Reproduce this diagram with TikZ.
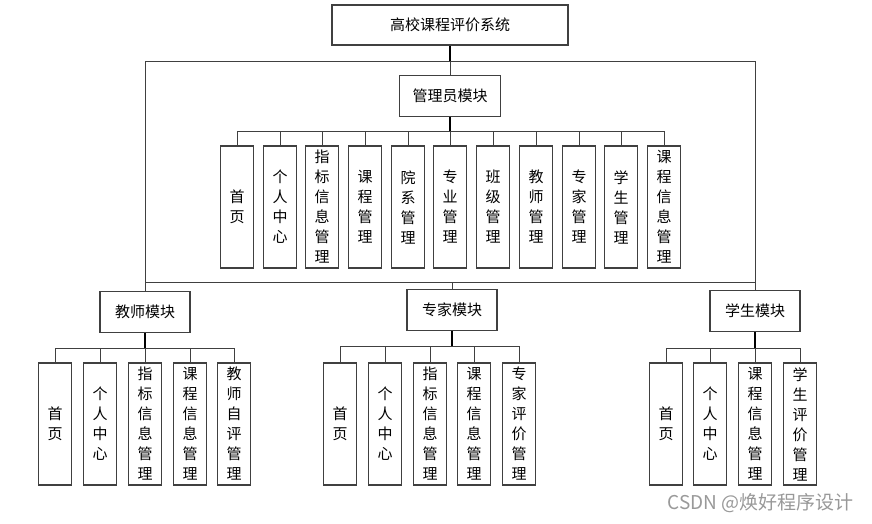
\documentclass[tikz,border=0pt]{standalone}
\usepackage{fontspec}
\setmainfont{Noto Sans CJK SC}
\tikzset{
  box/.style={draw=black!75, line width=1.2pt, inner sep=0pt, align=center,
    font=\fontsize{15}{20}\selectfont},
  rootbox/.style={box, minimum width=236, minimum height=40},
  modbox/.style={box, minimum width=90, minimum height=41},
  leaf/.style={box, minimum width=33, minimum height=122},
  link/.style={draw=black!75, line width=1pt},
  stem/.style={draw=black, line width=1.8pt}
}
\begin{document}
\begin{tikzpicture}[x=1pt, y=-1pt]
      \fill[white] (0,0) rectangle (872,523);
      \useasboundingbox (0,0) rectangle (872,523);
      \path
        (450,25) node[rootbox] (sys){高校课程评价系统}
        (450,96) node[modbox, minimum width=101] (admin){管理员模块}
        (145,312) node[modbox] (teacher){教师模块}
        (452,310) node[modbox] (expert){专家模块}
        (755,311) node[modbox] (student){学生模块};
      % admin leaves
      \path
        (237,207) node[leaf] (a1){首\\页}
        (280,207) node[leaf] (a2){个\\人\\中\\心}
        (322,207) node[leaf] (a3){指\\标\\信\\息\\管\\理}
        (365,207) node[leaf] (a4){课\\程\\管\\理}
        (408,207) node[leaf] (a5){院\\系\\管\\理}
        (450,207) node[leaf] (a6){专\\业\\管\\理}
        (493,207) node[leaf] (a7){班\\级\\管\\理}
        (536,207) node[leaf] (a8){教\\师\\管\\理}
        (579,207) node[leaf] (a9){专\\家\\管\\理}
        (621,207) node[leaf] (a10){学\\生\\管\\理}
        (664,207) node[leaf] (a11){课\\程\\信\\息\\管\\理};
      % teacher leaves
      \path
        (55,424) node[leaf] (t1){首\\页}
        (100,424) node[leaf] (t2){个\\人\\中\\心}
        (145,424) node[leaf] (t3){指\\标\\信\\息\\管\\理}
        (190,424) node[leaf] (t4){课\\程\\信\\息\\管\\理}
        (234,424) node[leaf] (t5){教\\师\\自\\评\\管\\理};
      % expert leaves
      \path
        (340,424) node[leaf] (e1){首\\页}
        (385,424) node[leaf] (e2){个\\人\\中\\心}
        (430,424) node[leaf] (e3){指\\标\\信\\息\\管\\理}
        (474,424) node[leaf] (e4){课\\程\\信\\息\\管\\理}
        (519,424) node[leaf] (e5){专\\家\\评\\价\\管\\理};
      % student leaves
      \path
        (666,424) node[leaf] (s1){首\\页}
        (710,424) node[leaf] (s2){个\\人\\中\\心}
        (755,424) node[leaf] (s3){课\\程\\信\\息\\管\\理}
        (800,424) node[leaf] (s4){学\\生\\评\\价\\管\\理};
      \node[anchor=east, text=black!40, font=\fontsize{19}{22}\selectfont] (mark) at (857,503) {CSDN @焕好程序设计};
      \coordinate (ftop) at (450,61);
      \coordinate (fbot) at (452,282);
      \coordinate (abus) at (450,131);
      \coordinate (tbus) at (145,348);
      \coordinate (ebus) at (452,346);
      \coordinate (sbus) at (755,348);
      \begin{scope}[link]
        \draw[stem] (sys) to (ftop);
        \draw (ftop) to (admin);
        \draw (ftop) -| (teacher);
        \draw (ftop) -| (student);
        \draw (teacher.north |- fbot) to (student.north |- fbot);
        \draw (fbot) to (expert);
        \draw[stem] (admin) to (abus);
        \draw (abus) -| (a1);
        \draw (abus) -| (a2);
        \draw (abus) -| (a3);
        \draw (abus) -| (a4);
        \draw (abus) -| (a5);
        \draw (abus) -- (a6);
        \draw (abus) -| (a7);
        \draw (abus) -| (a8);
        \draw (abus) -| (a9);
        \draw (abus) -| (a10);
        \draw (abus) -| (a11);
        \draw[stem] (teacher) to (tbus);
        \draw (tbus) -| (t1);
        \draw (tbus) -| (t2);
        \draw (tbus) -- (t3);
        \draw (tbus) -| (t4);
        \draw (tbus) -| (t5);
        \draw[stem] (expert) to (ebus);
        \draw (ebus) -| (e1);
        \draw (ebus) -| (e2);
        \draw (ebus) -| (e3);
        \draw (ebus) -| (e4);
        \draw (ebus) -| (e5);
        \draw[stem] (student) to (sbus);
        \draw (sbus) -| (s1);
        \draw (sbus) -| (s2);
        \draw (sbus) -- (s3);
        \draw (sbus) -| (s4);
      \end{scope}
    \end{tikzpicture}
\end{document}
